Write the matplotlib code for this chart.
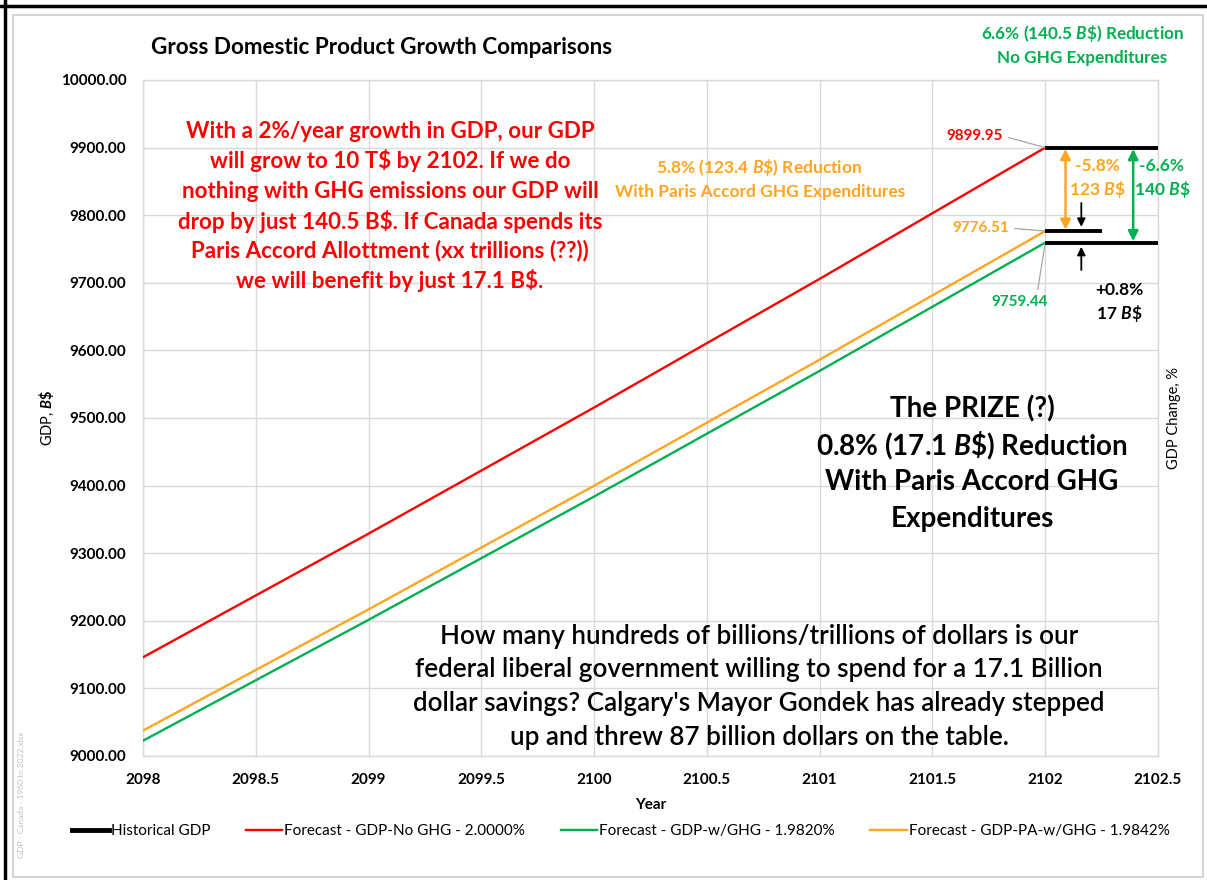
import matplotlib
matplotlib.use("Agg")
import matplotlib.pyplot as plt
from matplotlib.lines import Line2D

plt.rcParams['font.family'] = ['Lato', 'DejaVu Sans']
plt.rcParams['mathtext.fontset'] = 'custom'
plt.rcParams['mathtext.it'] = 'Lato:italic:bold'
plt.rcParams['mathtext.rm'] = 'Lato:bold'
plt.rcParams['mathtext.bf'] = 'Lato:bold'

# ---------------- data ----------------
years = [2098, 2099, 2100, 2101, 2102]
gdp_no_ghg = [9146.02, 9328.94, 9515.52, 9705.83, 9899.95]
gdp_w_ghg = [9022.61, 9201.43, 9383.80, 9569.78, 9759.44]
gdp_pa_w_ghg = [9037.59, 9216.91, 9399.79, 9586.30, 9776.51]

series_labels = ["Historical GDP",
                 "Forecast - GDP-No GHG - 2.0000%",
                 "Forecast - GDP-w/GHG - 1.9820%",
                 "Forecast - GDP-PA-w/GHG - 1.9842%"]

end_levels = [9899.95, 9776.51, 9759.44]
end_bar_stop = [2102.5, 2102.25, 2102.5]

x_ticks = [2098, 2098.5, 2099, 2099.5, 2100, 2100.5, 2101, 2101.5, 2102, 2102.5]
y_ticks = [9000, 9100, 9200, 9300, 9400, 9500, 9600, 9700, 9800, 9900, 10000]

RED = '#FF0000'
GREEN = '#00B050'
ORANGE = '#FFA51F'
GRID = '#D9D9D9'

W, H = 1207, 880
fig = plt.figure(figsize=(W / 100, H / 100), dpi=100)


def fx(px):
    return px / W


def fy(py):
    return 1 - py / H


def ftext(px, py, s, **kw):
    return fig.text(fx(px), fy(py), s, **kw)


ax = fig.add_axes([fx(143), fy(756), fx(1158) - fx(143), fy(80) - fy(756)])

ax.plot(years, gdp_no_ghg, color=RED, lw=1.7, zorder=3)
ax.plot(years, gdp_w_ghg, color=GREEN, lw=1.7, zorder=3)
ax.plot(years, gdp_pa_w_ghg, color=ORANGE, lw=1.7, zorder=3)

for lvl, stop in zip(end_levels, end_bar_stop):
    ax.plot([years[-1], stop], [lvl, lvl], color='black', lw=2.8, zorder=4,
            solid_capstyle='butt')

ax.set_xlim(2098, 2102.5)
ax.set_ylim(9000, 10000)
ax.set_xticks(x_ticks)
ax.set_xticklabels([f"{t:g}" for t in x_ticks])
ax.set_yticks(y_ticks)
ax.set_yticklabels([f"{t:.2f}" for t in y_ticks])
ax.tick_params(length=0, labelsize=11)
ax.tick_params(axis='y', pad=12)
ax.tick_params(axis='x', pad=12)
for lab in ax.get_xticklabels() + ax.get_yticklabels():
    lab.set_fontweight('bold')
ax.grid(True, color=GRID, lw=1)
ax.set_axisbelow(True)
for s in ax.spines.values():
    s.set_color(GRID)
    s.set_linewidth(1)

ax.set_xlabel("Year", fontsize=11, fontweight='bold', labelpad=8)
ax.set_ylabel(r"GDP, $\mathit{B\$}$", fontsize=10.5, labelpad=3)

# ---------- data labels with leader lines ----------
lead = dict(arrowstyle='-', color='#A6A6A6', lw=0.9, shrinkA=2, shrinkB=0)
ax.annotate(f"{end_levels[0]:.2f}", xy=(years[-1], end_levels[0]),
            xytext=(fx(1003), fy(136)), textcoords='figure fraction',
            color=RED, fontsize=11, fontweight='bold', ha='right', va='center',
            arrowprops=dict(lead, relpos=(1, 0.5)))
ax.annotate(f"{end_levels[1]:.2f}", xy=(years[-1], end_levels[1]),
            xytext=(fx(1009), fy(228)), textcoords='figure fraction',
            color=ORANGE, fontsize=11, fontweight='bold', ha='right', va='center',
            arrowprops=dict(lead, relpos=(1, 0.5)))
ax.annotate(f"{end_levels[2]:.2f}", xy=(years[-1], end_levels[2]),
            xytext=(fx(1020), fy(302)), textcoords='figure fraction',
            color=GREEN, fontsize=11, fontweight='bold', ha='center', va='center',
            arrowprops=dict(lead, relpos=(0.8, 1)))

# ---------- difference arrows ----------
dbl = dict(arrowstyle='<|-|>', lw=1.8, mutation_scale=15, shrinkA=1, shrinkB=1)
ax.annotate('', xy=(2102.09, end_levels[1]), xytext=(2102.09, end_levels[0]),
            arrowprops=dict(dbl, color=ORANGE), zorder=5)
ax.annotate('', xy=(2102.39, end_levels[2]), xytext=(2102.39, end_levels[0]),
            arrowprops=dict(dbl, color=GREEN), zorder=5)
sgl = dict(arrowstyle='-|>', lw=1.3, mutation_scale=12, color='black',
           shrinkA=0, shrinkB=3)
ax.annotate('', xy=(2102.16, end_levels[1]), xytext=(2102.16, 9818),
            arrowprops=sgl, zorder=5)
ax.annotate('', xy=(2102.16, end_levels[2]), xytext=(2102.16, 9719),
            arrowprops=sgl, zorder=5)

# ---------- texts ----------
ftext(151, 47, "Gross Domestic Product Growth Comparisons", fontsize=16.2,
      fontweight='bold', ha='left', va='center')

ftext(1083, 33, r"6.6% (140.5 $\mathit{B\$}$) Reduction", fontsize=12.3,
      fontweight='bold', color=GREEN, ha='center', va='center')
ftext(1082, 58, "No GHG Expenditures", fontsize=12.3,
      fontweight='bold', color=GREEN, ha='center', va='center')

ftext(759, 168, r"5.8% (123.4 $\mathit{B\$}$) Reduction", fontsize=12.5,
      fontweight='bold', color=ORANGE, ha='center', va='center')
ftext(760, 192, "With Paris Accord GHG Expenditures", fontsize=12.5,
      fontweight='bold', color=ORANGE, ha='center', va='center')

red_lines = ["With a 2%/year growth in GDP, our GDP",
             "will grow to 10 T$ by 2102. If we do",
             "nothing with GHG emissions our GDP will",
             "drop by just 140.5 B$. If Canada spends its",
             "Paris Accord Allottment (xx trillions (??))",
             "we will benefit by just 17.1 B$."]
for i, line in enumerate(red_lines):
    ftext(390, 131 + i * 30, line.replace('$', r'\$'), fontsize=16.1,
          fontweight='bold', color=RED, ha='center', va='center')

ftext(1097, 166, "-5.8%", fontsize=12.5, fontweight='bold', color=ORANGE,
      ha='center', va='center')
ftext(1097, 190, r"123 $\mathit{B\$}$", fontsize=12.5, fontweight='bold',
      color=ORANGE, ha='center', va='center')
ftext(1162, 166, "-6.6%", fontsize=12.5, fontweight='bold', color=GREEN,
      ha='center', va='center')
ftext(1162, 190, r"140 $\mathit{B\$}$", fontsize=12.5, fontweight='bold',
      color=GREEN, ha='center', va='center')
ftext(1119, 290, "+0.8%", fontsize=12.5, fontweight='bold', color='black',
      ha='center', va='center')
ftext(1119, 313, r"17 $\mathit{B\$}$", fontsize=12.5, fontweight='bold',
      color='black', ha='center', va='center')

prize_lines = ["The PRIZE (?)",
               r"0.8% (17.1 $\mathit{B\$}$) Reduction",
               "With Paris Accord GHG",
               "Expenditures"]
for i, line in enumerate(prize_lines):
    ftext(972, 409 + i * 36.5, line, fontsize=20, fontweight='bold',
          color='black', ha='center', va='center')

bottom_lines = ["How many hundreds of billions/trillions of dollars is our",
                "federal liberal government willing to spend for a 17.1 Billion",
                "dollar savings? Calgary's Mayor Gondek has already stepped",
                "up and threw 87 billion dollars on the table."]
for i, line in enumerate(bottom_lines):
    ftext(759, 636 + i * 33.7, line.replace('$', r'\$'), fontsize=18.7,
          fontweight='semibold', color='black', ha='center', va='center')

ftext(1174, 418, "GDP Change, %", fontsize=10.5, rotation=90,
      ha='center', va='center')
ftext(22, 858, "GDP - Canada - 1960 to 2022.xlsx", fontsize=6, rotation=90,
      color='#BFBFBF', ha='center', va='bottom')

# ---------- legend ----------
handles = [Line2D([], [], color='black', lw=3.5),
           Line2D([], [], color=RED, lw=1.7),
           Line2D([], [], color=GREEN, lw=1.7),
           Line2D([], [], color=ORANGE, lw=1.7)]
fig.legend(handles, series_labels, loc='center', ncol=4,
           bbox_to_anchor=(fx(621), fy(831)), frameon=False, fontsize=11,
           handlelength=2.4, handletextpad=0.15, columnspacing=2.3)

# ---------- frame ----------
fig.add_artist(Line2D([fx(13), fx(1203), fx(1203), fx(13), fx(13)],
                      [fy(15), fy(15), fy(877), fy(877), fy(15)],
                      color='#D0D0D0', lw=1.2, transform=fig.transFigure))
fig.add_artist(Line2D([fx(0), fx(1207)], [fy(6), fy(6)], color='black',
                      lw=2.5, transform=fig.transFigure))
fig.add_artist(Line2D([fx(5), fx(5)], [fy(0), fy(880)], color='black',
                      lw=2.5, transform=fig.transFigure))

fig.savefig("out.png", dpi=100)
